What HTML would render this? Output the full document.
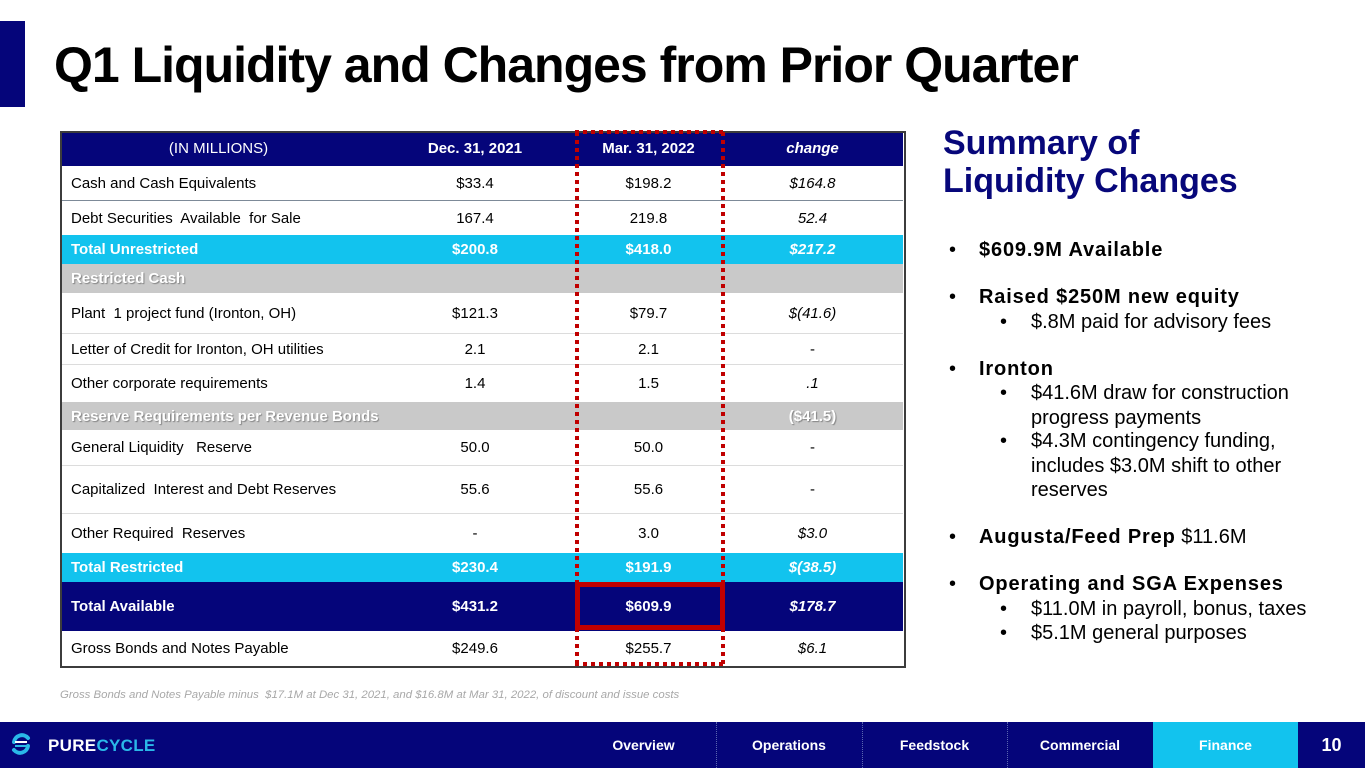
<!DOCTYPE html>
<html>
<head>
<meta charset="utf-8">
<style>
  html,body{margin:0;padding:0;background:#fff;}
  #pg{position:relative;width:1365px;height:768px;overflow:hidden;background:#fff;font-family:"Liberation Sans",Arial,sans-serif;color:#000;}
  .abs{position:absolute;}
  .bar{left:0;top:21px;width:25px;height:86px;background:#05057a;}
  .title{left:54px;top:35px;font-size:50px;line-height:60px;font-weight:bold;letter-spacing:-1px;white-space:nowrap;color:#000;}
  .row{position:absolute;left:62px;width:841px;display:flex;align-items:center;font-size:15px;white-space:nowrap;}
  .row div{box-sizing:border-box;}
  .l{width:313px;padding-left:9px;text-align:left;}
  .d{width:200px;text-align:center;}
  .m{width:147px;text-align:center;}
  .c{width:181px;text-align:center;font-style:italic;}
  .navy{background:#05057a;color:#fff;}
  .cyan{background:#12c3ee;color:#fff;font-weight:bold;}
  .gray{background:#c9c9c9;color:#fff;font-weight:bold;text-shadow:1px 1px 1px rgba(0,0,0,0.35);}
  .sep{position:absolute;left:62px;width:841px;height:1px;background:#dcdcdc;}
  .sumt{left:943px;top:124px;font-size:34px;line-height:38px;font-weight:bold;color:#07077a;white-space:nowrap;}
  .bl{position:absolute;height:24px;line-height:24px;font-size:20px;white-space:nowrap;color:#000;}
  .b{font-weight:bold;letter-spacing:0.85px;}
  .foot{left:0;top:722px;width:1365px;height:46px;background:#05057a;}
  .tab{position:absolute;top:722px;height:46px;line-height:46px;text-align:center;color:#fff;font-weight:bold;font-size:14px;}
  .dsep{position:absolute;top:722px;height:46px;width:0;border-left:1px dotted #5b66b0;}
</style>
</head>
<body>
<div id="pg">
  <div class="abs bar"></div>
  <div class="abs title">Q1 Liquidity and Changes from Prior Quarter</div>

  <!-- table rows -->
  <div class="row navy" style="top:131px;height:35px;">
    <div class="l" style="text-align:center;padding-left:0;">(IN MILLIONS)</div>
    <div class="d" style="font-weight:bold;">Dec. 31, 2021</div>
    <div class="m" style="font-weight:bold;">Mar. 31, 2022</div>
    <div class="c" style="font-weight:bold;">change</div>
  </div>
  <div class="row" style="top:166px;height:34px;">
    <div class="l">Cash and Cash Equivalents</div><div class="d">$33.4</div><div class="m">$198.2</div><div class="c">$164.8</div>
  </div>
  <div class="abs" style="left:62px;top:200px;width:841px;height:1px;background:#7d8a98;"></div>
  <div class="row" style="top:201px;height:34px;">
    <div class="l">Debt Securities&nbsp; Available&nbsp; for Sale</div><div class="d">167.4</div><div class="m">219.8</div><div class="c">52.4</div>
  </div>
  <div class="row cyan" style="top:235px;height:29px;">
    <div class="l">Total Unrestricted</div><div class="d">$200.8</div><div class="m">$418.0</div><div class="c">$217.2</div>
  </div>
  <div class="row gray" style="top:264px;height:29px;">
    <div class="l">Restricted Cash</div><div class="d"></div><div class="m"></div><div class="c"></div>
  </div>
  <div class="row" style="top:293px;height:40px;">
    <div class="l">Plant&nbsp; 1 project fund (Ironton, OH)</div><div class="d">$121.3</div><div class="m">$79.7</div><div class="c">$(41.6)</div>
  </div>
  <div class="sep" style="top:333px;"></div>
  <div class="row" style="top:334px;height:30px;">
    <div class="l">Letter of Credit for Ironton, OH utilities</div><div class="d">2.1</div><div class="m">2.1</div><div class="c" style="font-style:normal;">-</div>
  </div>
  <div class="sep" style="top:364px;"></div>
  <div class="row" style="top:365px;height:37px;">
    <div class="l">Other corporate requirements</div><div class="d">1.4</div><div class="m">1.5</div><div class="c">.1</div>
  </div>
  <div class="row gray" style="top:402px;height:28px;">
    <div class="l">Reserve Requirements per Revenue Bonds</div><div class="d"></div><div class="m"></div><div class="c" style="font-style:normal;">($41.5)</div>
  </div>
  <div class="row" style="top:430px;height:35px;">
    <div class="l">General Liquidity&nbsp;&nbsp; Reserve</div><div class="d">50.0</div><div class="m">50.0</div><div class="c" style="font-style:normal;">-</div>
  </div>
  <div class="sep" style="top:465px;"></div>
  <div class="row" style="top:466px;height:47px;">
    <div class="l">Capitalized&nbsp; Interest and Debt Reserves</div><div class="d">55.6</div><div class="m">55.6</div><div class="c" style="font-style:normal;">-</div>
  </div>
  <div class="sep" style="top:513px;"></div>
  <div class="row" style="top:514px;height:39px;">
    <div class="l">Other Required&nbsp; Reserves</div><div class="d">-</div><div class="m">3.0</div><div class="c">$3.0</div>
  </div>
  <div class="row cyan" style="top:553px;height:29px;">
    <div class="l">Total Restricted</div><div class="d">$230.4</div><div class="m">$191.9</div><div class="c">$(38.5)</div>
  </div>
  <div class="row navy" style="top:582px;height:49px;font-weight:bold;">
    <div class="l">Total Available</div><div class="d">$431.2</div><div class="m">$609.9</div><div class="c">$178.7</div>
  </div>
  <div class="row" style="top:631px;height:35px;">
    <div class="l">Gross Bonds and Notes Payable</div><div class="d">$249.6</div><div class="m">$255.7</div><div class="c">$6.1</div>
  </div>
  <div class="abs" style="left:60px;top:131px;width:846px;height:537px;border:2px solid #3c3c3c;box-sizing:border-box;"></div>

  <!-- red highlight boxes -->
  <svg class="abs" style="left:0;top:0;" width="1365" height="768">
    <g stroke="#c00000" stroke-width="4" stroke-dasharray="4 4" fill="none">
      <line x1="577" y1="132" x2="577" y2="665"/>
      <line x1="723" y1="132" x2="723" y2="665"/>
      <line x1="575" y1="132" x2="725" y2="132"/>
      <line x1="575" y1="664" x2="725" y2="664"/>
    </g>
    <rect x="577.5" y="584.5" width="145" height="43" fill="none" stroke="#c00000" stroke-width="5"/>
  </svg>

  <div class="abs" style="left:60px;top:689px;font-size:11.4px;line-height:13px;font-style:italic;color:#a8a8a8;white-space:nowrap;">Gross Bonds and Notes Payable minus&nbsp; $17.1M at Dec 31, 2021, and $16.8M at Mar 31, 2022, of discount and issue costs</div>

  <!-- summary -->
  <div class="abs sumt">Summary of<br>Liquidity Changes</div>

  <div class="bl" style="left:949px;top:238px;">•</div><div class="bl b" style="left:979px;top:238px;">$609.9M Available</div>
  <div class="bl" style="left:949px;top:285px;">•</div><div class="bl b" style="left:979px;top:285px;">Raised $250M new equity</div>
  <div class="bl" style="left:1000px;top:310px;">•</div><div class="bl" style="left:1031px;top:310px;">$.8M paid for advisory fees</div>
  <div class="bl" style="left:949px;top:357px;">•</div><div class="bl b" style="left:979px;top:357px;">Ironton</div>
  <div class="bl" style="left:1000px;top:381px;">•</div><div class="bl" style="left:1031px;top:381px;">$41.6M draw for construction</div>
  <div class="bl" style="left:1031px;top:406px;">progress payments</div>
  <div class="bl" style="left:1000px;top:429px;">•</div><div class="bl" style="left:1031px;top:429px;">$4.3M contingency funding,</div>
  <div class="bl" style="left:1031px;top:454px;">includes $3.0M shift to other</div>
  <div class="bl" style="left:1031px;top:478px;">reserves</div>
  <div class="bl" style="left:949px;top:525px;">•</div><div class="bl" style="left:979px;top:525px;"><span class="b">Augusta/Feed Prep</span> $11.6M</div>
  <div class="bl" style="left:949px;top:572px;">•</div><div class="bl b" style="left:979px;top:572px;">Operating and SGA Expenses</div>
  <div class="bl" style="left:1000px;top:597px;">•</div><div class="bl" style="left:1031px;top:597px;">$11.0M in payroll, bonus, taxes</div>
  <div class="bl" style="left:1000px;top:621px;">•</div><div class="bl" style="left:1031px;top:621px;">$5.1M general purposes</div>

  <!-- footer -->
  <div class="abs foot"></div>
  <div class="abs" style="left:1153px;top:722px;width:145px;height:46px;background:#12c3ee;"></div>
  <div class="dsep" style="left:716px;"></div>
  <div class="dsep" style="left:862px;"></div>
  <div class="dsep" style="left:1007px;"></div>
  <div class="tab" style="left:571px;width:145px;">Overview</div>
  <div class="tab" style="left:716px;width:146px;">Operations</div>
  <div class="tab" style="left:862px;width:145px;">Feedstock</div>
  <div class="tab" style="left:1007px;width:146px;">Commercial</div>
  <div class="tab" style="left:1153px;width:145px;">Finance</div>
  <div class="tab" style="left:1298px;width:67px;font-size:18px;">10</div>

  <svg class="abs" style="left:10px;top:731px;" width="22" height="26" viewBox="0 0 22 26">
    <path d="M4 11 A8 8 0 0 1 18 7" fill="none" stroke="#2ab8e8" stroke-width="4" stroke-linecap="round"/>
    <path d="M18 15 A8 8 0 0 1 4 19" fill="none" stroke="#2ab8e8" stroke-width="4" stroke-linecap="round"/>
    <line x1="5" y1="11" x2="17" y2="11" stroke="#fff" stroke-width="2"/>
    <line x1="5" y1="15" x2="17" y2="15" stroke="#2ab8e8" stroke-width="2"/>
  </svg>
  <div class="abs" style="left:48px;top:736px;font-size:17px;line-height:20px;font-weight:bold;letter-spacing:0.3px;color:#fff;white-space:nowrap;">PURE<span style="color:#2ab8e8;">CYCLE</span></div>
</div>
</body>
</html>
